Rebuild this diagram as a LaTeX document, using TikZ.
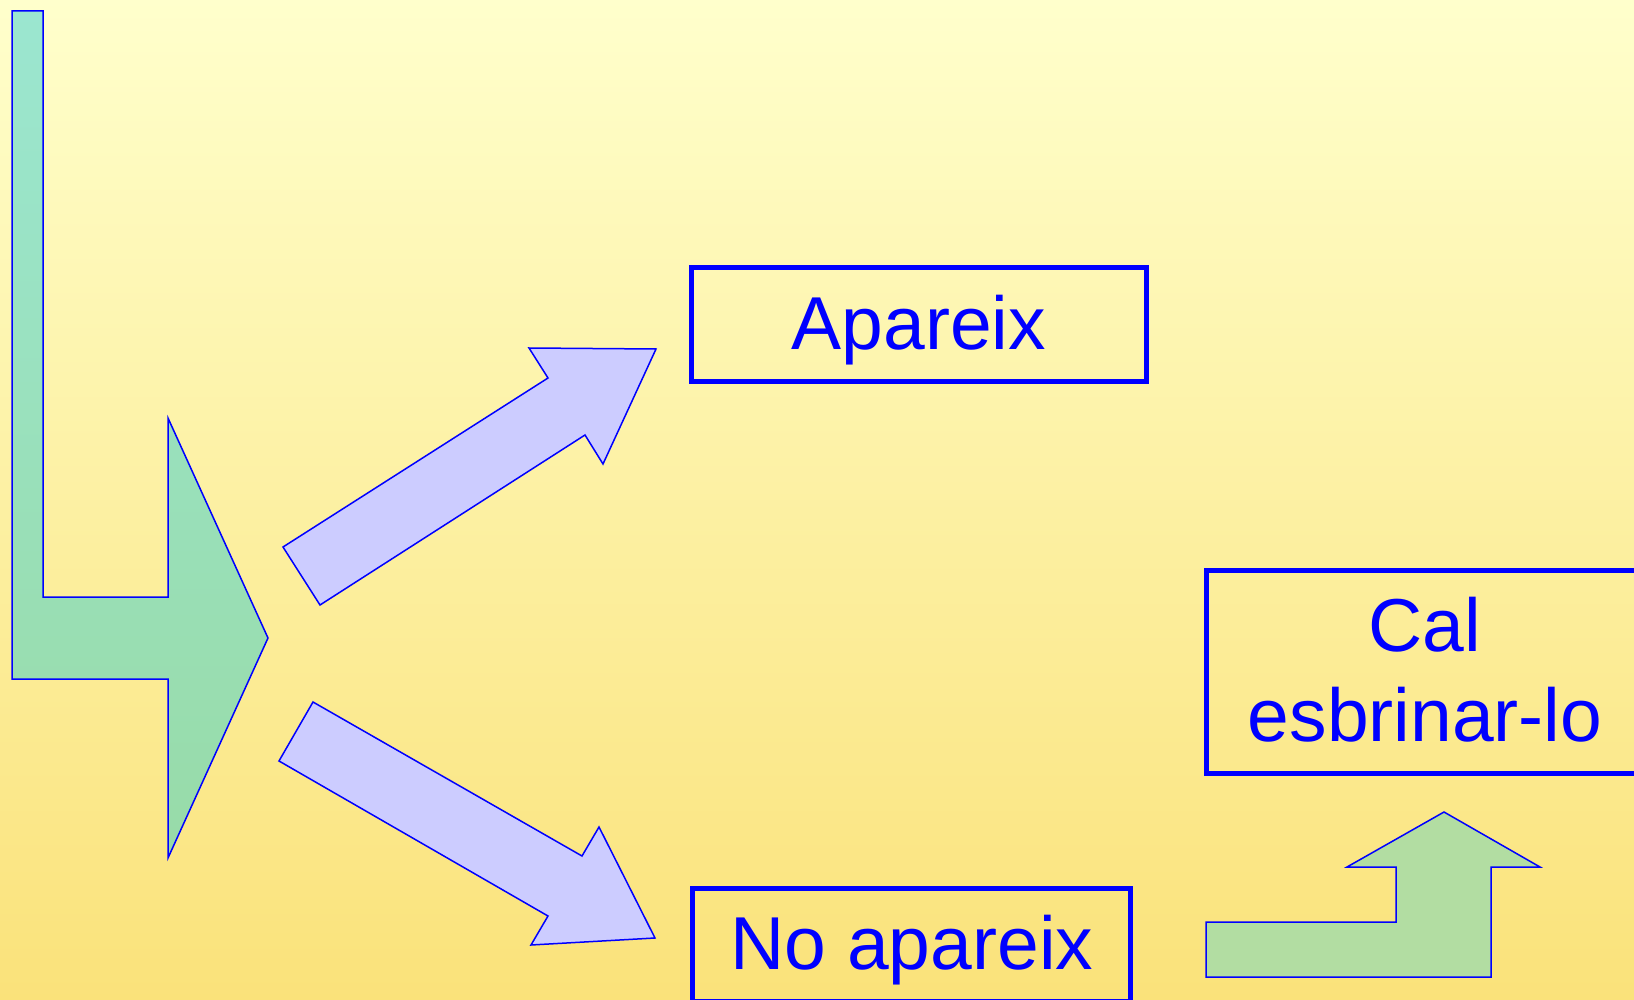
\documentclass[tikz,border=0pt]{standalone}
\usepackage{fontspec}
\setmainfont{Liberation Sans}
\definecolor{bgtop}{RGB}{255,255,204}
\definecolor{bgbot}{RGB}{250,226,122}
\definecolor{bentA}{RGB}{155,230,208}
\definecolor{bentB}{RGB}{152,219,168}
\definecolor{arrblue}{RGB}{204,204,255}
\definecolor{arrgreen}{RGB}{178,221,162}
\definecolor{txtblue}{RGB}{0,0,255}
\begin{document}
\begin{tikzpicture}[x=1pt,y=-1pt,
  shapeline/.style={draw=txtblue,line width=1.5pt,line join=miter},
  boxstyle/.style={draw=txtblue,line width=5pt,rectangle,inner sep=0pt,outer sep=0pt},
  lbl/.style={text=txtblue,font=\fontsize{75}{90}\selectfont,anchor=base,inner sep=0pt}]
\useasboundingbox (0,0) rectangle (1634,1000);
\clip (0,0) rectangle (1634,1000);
\shade[top color=bgtop,bottom color=bgbot] (0,0) rectangle (1634,1000);
% bent arrow
\shade[top color=bentA,bottom color=bentB] (12,11) -- (43,11) -- (43,597) -- (168,597) -- (168,418) -- (268,638) -- (168,858) -- (168,679) -- (12,679) -- cycle;
\draw[shapeline] (12,11) -- (43,11) -- (43,597) -- (168,597) -- (168,418) -- (268,638) -- (168,858) -- (168,679) -- (12,679) -- cycle;
% up-right arrow
\draw[shapeline,fill=arrblue] (283,547) -- (548,378) -- (529,348) -- (656,349) -- (603,464) -- (585,435) -- (320,605) -- cycle;
% down-right arrow
\draw[shapeline,fill=arrblue] (313,702) -- (582,856) -- (599,827) -- (655,938) -- (531,945) -- (548,916) -- (279,761) -- cycle;
% small green up arrow
\draw[shapeline,fill=arrgreen] (1206,977) -- (1206,922) -- (1396,922) -- (1396,867) -- (1347,867) -- (1444,812) -- (1540,867) -- (1491,867) -- (1491,977) -- cycle;
% boxes
\node[boxstyle,minimum width=454.5pt,minimum height=114pt] (apareix) at (918.75,324.5) {};
\node[lbl] (tapareix) at (918.75,350) {Apareix};
\node[boxstyle,minimum width=438.5pt,minimum height=113pt] (noapareix) at (911.25,944.5) {};
\node[lbl] (tnoapareix) at (912,969.3) {No apareix};
\node[boxstyle,minimum width=439pt,minimum height=203pt] (cal) at (1425.5,671.5) {};
\node[lbl] (tcal) at (1425,651.7) {Cal};
\node[lbl] (tesbrinar) at (1425,741.7) {esbrinar-lo};
\end{tikzpicture}
\end{document}
